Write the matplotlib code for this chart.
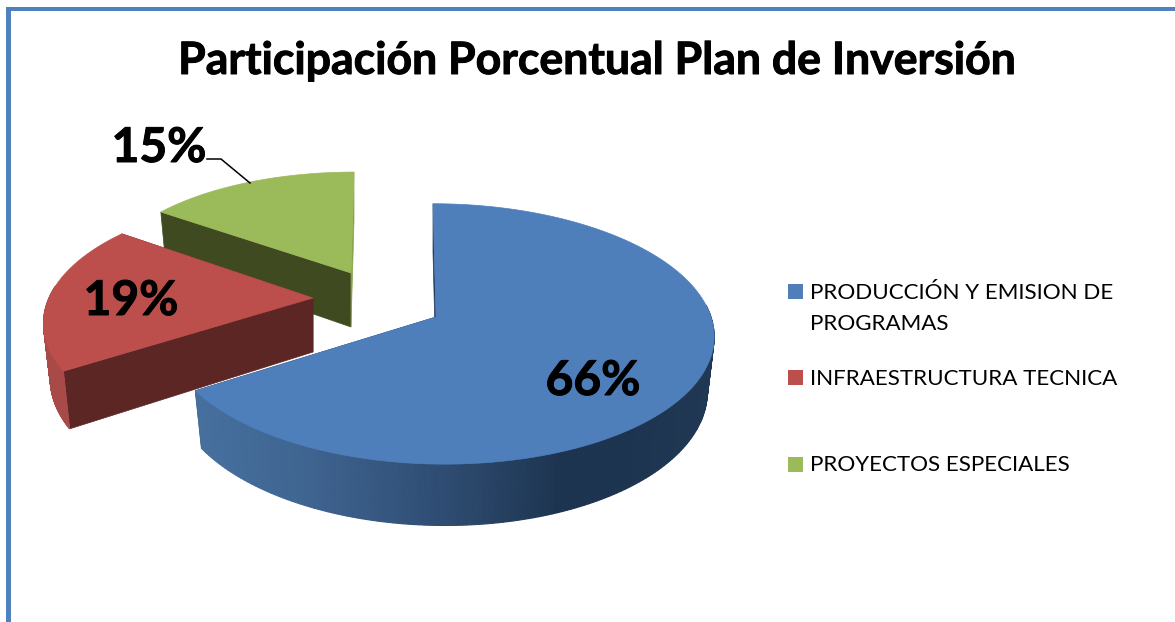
import numpy as np
import matplotlib
matplotlib.use("Agg")
import matplotlib.pyplot as plt
import matplotlib.patheffects as pe
from matplotlib.patches import Polygon, Rectangle
from matplotlib.colors import to_rgb

# ---- data ----
title = "Participación Porcentual Plan de Inversión"
categories = ["PRODUCCIÓN Y EMISION DE\nPROGRAMAS", "INFRAESTRUCTURA TECNICA", "PROYECTOS ESPECIALES"]
values = [66, 19, 15]
value_labels = ["66%", "19%", "15%"]

# ---- style / layout (pixel space) ----
top_colors = ["#4e7fbb", "#bc4f4c", "#9bba59"]
# colours of the two radial faces of each slice (start edge, end edge)
face_colors = [("#1d3a5c", "#1d3a5c"), ("#5c2625", "#5c2625"), ("#3f4a21", "#86a34c")]
# outer wall shading, by x pixel
wall_x = {0: [195, 300, 440, 560, 620, 714], 1: [40, 80], 2: [340, 360]}
wall_c = {0: ["#47709f", "#3f6591", "#2f4d73", "#1d3450", "#1d3450", "#203853"],
          1: ["#a84b48", "#a84b48"], 2: ["#86a34c", "#86a34c"]}
#         apex x,y     rx   ry    k    shear depth arc-shift
geom = {0: (436, 317, 272, 128, 0.13, 6, 54, 3),
        1: (313, 298, 264, 122, 0.2, 0, 54, 0),
        2: (351, 273, 247, 108, 0.07, -3, 54, 0)}
label_pos = [(593, 381), (131, 301), (159, 148)]
legend_y = [291.5, 377.5, 464.5]
text_y = [(293, 324), (379,), (465,)]

plt.rcParams["font.family"] = ["Lato", "DejaVu Sans"]
fig = plt.figure(figsize=(11.75, 6.22), dpi=100, facecolor="white")
ax = fig.add_axes([0, 0, 1, 1])
ax.set_xlim(0, 1175)
ax.set_ylim(622, 0)
ax.axis("off")


def project(theta, g, lower=False):
    ax0, ay0, rx, ry, k, s, d, sh = g
    u, v = np.sin(theta), -np.cos(theta)
    den = 1 - k * v
    if lower:
        return ax0 + sh + 0.975 * rx * u / den + s * v, ay0 + d + 1.05 * ry * v / den
    return ax0 + sh + rx * u / den + s * v, ay0 + ry * v / den


def wall_colour(i, x):
    cols = np.array([to_rgb(c) for c in wall_c[i]])
    return tuple(np.interp(x, wall_x[i], cols[:, j]) for j in range(3))


# slice angles, clockwise from 12 o'clock, starting with the first category
edges = np.concatenate([[0], np.cumsum(values)]) / np.sum(values) * 2 * np.pi

for i in [2, 1, 0]:
    g = geom[i]
    t0, t1 = edges[i], edges[i + 1]
    ts = np.linspace(t0, t1, 240)
    ax0, ay0, d = g[0], g[1], g[6]
    # radial faces
    for t, fc in zip((t0, t1), face_colors[i]):
        x, y = project(t, g)
        xb, yb = project(t, g, True)
        ax.add_patch(Polygon([(ax0, ay0), (x, y), (xb, yb), (ax0, ay0 + d)],
                             closed=True, fc=fc, ec=fc, lw=0.5, zorder=3 + (2 - i) * 3))
    # outer wall: only the part turned towards the viewer
    for a, b in zip(ts[:-1], ts[1:]):
        if np.cos((a + b) / 2) > 0.1:
            continue
        xa, ya = project(a, g)
        xb, yb = project(b, g)
        xa2, ya2 = project(a, g, True)
        xb2, yb2 = project(b, g, True)
        c = wall_colour(i, (xa + xb) / 2)
        ax.add_patch(Polygon([(xa, ya), (xb, yb), (xb2, yb2), (xa2, ya2)], closed=True,
                             fc=c, ec=c, lw=0.8, zorder=4 + (2 - i) * 3))
    # top face
    px, py = project(ts, g)
    ax.add_patch(Polygon(np.column_stack([np.r_[ax0, px], np.r_[ay0, py]]), closed=True,
                         fc=top_colors[i], ec=top_colors[i], lw=0.5, zorder=5 + (2 - i) * 3))

# frame
ax.add_patch(Rectangle((6, 7), 1169, 3.5, fc="#4f81bd", ec="none", zorder=20))
ax.add_patch(Rectangle((6, 7), 5.2, 615, fc="#4f81bd", ec="none", zorder=20))

heavy = [pe.withStroke(linewidth=0.7, foreground="black")]
# title
ax.text(597.5, 61, title, ha="center", va="center", fontsize=32.1, fontweight="bold",
        color="black", zorder=30, path_effects=heavy)

# data labels
for (x, y), s in zip(label_pos, value_labels):
    ax.text(x, y, s, ha="center", va="center", fontsize=34.5, fontweight="bold",
            color="black", zorder=30, path_effects=heavy)
ax.plot([207, 221, 250], [159, 159, 183], color="black", lw=1.1, zorder=30)

# legend
for i, (cat, ly, ty) in enumerate(zip(categories, legend_y, text_y)):
    ax.add_patch(Rectangle((788, ly - 7.5), 15, 15, fc=top_colors[i], ec="none", zorder=30))
    for line, y in zip(cat.split("\n"), ty):
        ax.text(809.5, y, line, ha="left", va="center", fontsize=16.1, color="black", zorder=30)

fig.savefig("out.png", dpi=100, facecolor="white")
